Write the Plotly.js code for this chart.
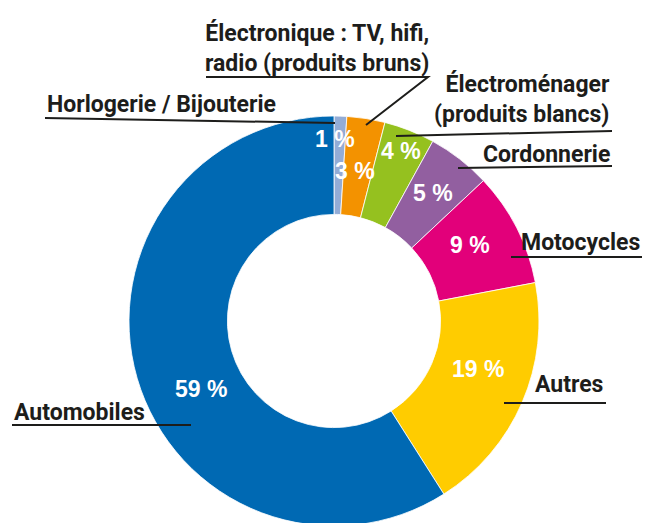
<!DOCTYPE html>
<html>
<head>
<meta charset="utf-8">
<script src="https://cdn.plot.ly/plotly-3.0.1.min.js"></script>
<style>
    html, body { margin: 0; padding: 0; overflow: hidden; background: #ffffff; }
    #repartition-graph { width: 649px; height: 540px; }
</style>
</head>
<body>
<div id="repartition-graph"></div>
<script>
(function () {
    'use strict';

    // data, clockwise from 12 o'clock
    var secteurs = [
        'Horlogerie / Bijouterie',
        'Électronique : TV, hifi,<br>radio (produits bruns)',
        'Électroménager<br>(produits blancs)',
        'Cordonnerie',
        'Motocycles',
        'Autres',
        'Automobiles'
    ];
    var parts = [1, 3, 4, 5, 9, 19, 59];
    var couleurs = ['#93acd6', '#f39200', '#95c11f', '#925fa0', '#e2007a', '#ffcc00', '#0069b3'];

    // page geometry (pixels)
    var W = 649, H = 540;
    var cx = 334, cy = 321, R = 205;

    // where each white percentage sits: [radius fraction, angle nudge in degrees]
    var placePct = [[0.89, -1.5], [0.74, -1.1], [0.89, 0], [0.79, 0], [0.76, -2.3], [0.74, -5], [0.73, -11]];

    // outside labels: text anchor and leader line (pixels)
    var etiquettes = [
        {x: 45, y: 104, anchor: 'left', line: [[45, 118], [335, 123]]},
        {x: 317, y: 48, anchor: 'center', line: [[206, 77], [428, 77], [366, 125]]},
        {x: 612, y: 99, anchor: 'right', line: [[396, 136], [612, 131]]},
        {x: 612, y: 154, anchor: 'right', line: [[458, 168], [612, 166]]},
        {x: 642, y: 243, anchor: 'right', line: [[511, 257], [642, 257]]},
        {x: 605, y: 384, anchor: 'right', line: [[504, 403], [606, 403]]},
        {x: 12, y: 412, anchor: 'left', line: [[12, 425], [191, 425]]}
    ];

    function px(x) { return x / W; }
    function py(y) { return 1 - y / H; }

    function createDonut() {
        var total = parts.reduce(function (a, b) { return a + b; }, 0);

        var trace = {
            type: 'pie',
            values: parts,
            labels: secteurs,
            sort: false,
            direction: 'clockwise',
            rotation: 0,
            hole: 0.52,
            textinfo: 'none',
            hoverinfo: 'label+percent',
            marker: {colors: couleurs, line: {color: '#ffffff', width: 0.8}},
            domain: {
                x: [px(cx - R), px(cx + R)],
                y: [py(cy + R), py(cy - R)]
            },
            showlegend: false
        };

        var annotations = [];
        var shapes = [];
        var cumul = 0;

        parts.forEach(function (v, i) {
            var mid = (cumul + v / 2) / total * 360 + placePct[i][1];
            cumul += v;
            var a = mid * Math.PI / 180;
            var r = R * placePct[i][0];
            annotations.push({
                xref: 'paper', yref: 'paper',
                x: px(cx + r * Math.sin(a)),
                y: py(cy - r * Math.cos(a)),
                text: '<b>' + v + ' %</b>',
                showarrow: false,
                xanchor: 'center', yanchor: 'middle',
                font: {family: 'Liberation Sans, Arial, sans-serif', size: 23, color: '#ffffff'}
            });
        });

        etiquettes.forEach(function (e, i) {
            annotations.push({
                xref: 'paper', yref: 'paper',
                x: px(e.x), y: py(e.y),
                text: '<b>' + secteurs[i] + '</b>',
                showarrow: false,
                xanchor: e.anchor, yanchor: 'middle',
                align: e.anchor,
                font: {family: 'Roboto, Liberation Sans, sans-serif', size: 23, color: '#1d1d1b'}
            });
            var path = e.line.map(function (p, k) {
                return (k === 0 ? 'M ' : 'L ') + px(p[0]) + ' ' + py(p[1]);
            }).join(' ');
            shapes.push({
                type: 'path', xref: 'paper', yref: 'paper',
                path: path,
                line: {color: '#1d1d1b', width: 2}
            });
        });

        var layout = {
            width: W,
            height: H,
            margin: {l: 0, r: 0, t: 0, b: 0},
            paper_bgcolor: '#ffffff',
            plot_bgcolor: '#ffffff',
            annotations: annotations,
            shapes: shapes
        };

        Plotly.newPlot('repartition-graph', [trace], layout, {displayModeBar: false, staticPlot: true});
    }

    createDonut();
})();
</script>
</body>
</html>
